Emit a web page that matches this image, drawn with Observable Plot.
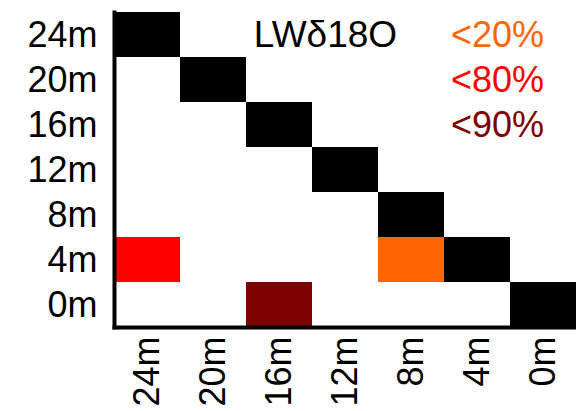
<!DOCTYPE html>
<html>
<head>
<meta charset="utf-8">
<script src="https://cdn.jsdelivr.net/npm/d3@7"></script>
<script src="https://cdn.jsdelivr.net/npm/@observablehq/plot@0.6"></script>
<style>
  html, body { margin: 0; padding: 0; background: #fff; }
</style>
</head>
<body>
<div id="chart"></div>
<script>
// Depth categories (x: left to right, y: top to bottom)
const depths = ["24m", "20m", "16m", "12m", "8m", "4m", "0m"];

// Significant cells
const sigX = ["8m", "24m", "16m"];
const sigY = ["4m", "4m", "0m"];
const sigLevel = ["<20%", "<80%", "<90%"];
const levelColors = ["#ff6600", "#ff0000", "#7f0000"];

// Legend rows
const legendRows = ["24m", "20m", "16m"];
const title = "LWδ18O";

const diagonal = depths.map(d => ({x: d, y: d}));
const sigCells = sigX.map((x, i) => ({x, y: sigY[i], level: sigLevel[i]}));
const legend = sigLevel.map((level, i) => ({level, y: legendRows[i], color: levelColors[i]}));

const chart = Plot.plot({
  width: 576,
  height: 411,
  marginLeft: 114,
  marginRight: 0,
  marginTop: 12,
  marginBottom: 84,
  style: {fontFamily: "'Liberation Sans', Arial, sans-serif", fontSize: "36px", background: "#fff", color: "#000"},
  x: {type: "band", domain: depths, padding: 0},
  y: {type: "band", domain: depths, padding: 0},
  color: {domain: sigLevel, range: levelColors},
  marks: [
    Plot.cell(diagonal, {x: "x", y: "y", fill: "#000"}),
    Plot.cell(sigCells, {x: "x", y: "y", fill: "level"}),
    Plot.text([title], {x: () => "12m", y: () => "24m", text: d => d, dx: -20, fill: "#000", fontSize: 37}),
    Plot.text(legend, {x: () => "4m", y: "y", text: "level", fill: "color", dx: 20, fontSize: 36}),
    Plot.axisY({tickSize: 0, tickPadding: 17, label: null, fontSize: 36}),
    Plot.axisX({tickSize: 0, tickPadding: 9, tickRotate: -90, label: null, fontSize: 36}),
    Plot.frame({anchor: "left", strokeWidth: 4}),
    Plot.frame({anchor: "bottom", strokeWidth: 4})
  ]
});
document.getElementById("chart").appendChild(chart);
</script>
</body>
</html>
